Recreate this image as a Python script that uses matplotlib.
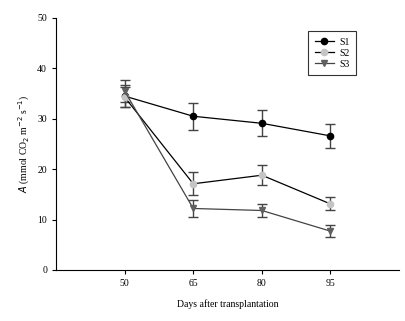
import numpy as np
import matplotlib
matplotlib.use("Agg")
import matplotlib.pyplot as plt
from matplotlib.lines import Line2D

plt.rcParams['font.family'] = ['Liberation Serif', 'DejaVu Serif']

days = [50, 65, 80, 95]
s1 = [34.5, 30.5, 29.1, 26.6]
s1_err = [2.2, 2.7, 2.6, 2.4]
s2 = [34.3, 17.1, 18.8, 13.1]
s2_err = [2.0, 2.3, 2.0, 1.3]
s3 = [35.5, 12.2, 11.8, 7.7]
s3_err = [2.2, 1.6, 1.3, 1.2]

fig = plt.figure(figsize=(4.06, 3.21), dpi=100)
ax = fig.add_axes([0.138, 0.159, 0.845, 0.785])

ebkw = dict(ecolor='#444444', elinewidth=1.0, capsize=3.5, capthick=1.0, lw=0.9)
ax.errorbar(days, s1, yerr=s1_err, fmt='-o', color='black', mfc='black', mec='black',
            ms=4.5, **ebkw)
ax.errorbar(days, s2, yerr=s2_err, fmt='-o', color='black', mfc='#c4c4c4', mec='#c4c4c4',
            ms=4.5, **ebkw)
ax.errorbar(days, s3, yerr=s3_err, fmt='-v', color='#444444', mfc='#606060', mec='#606060',
            ms=4.5, **ebkw)

ax.set_xlim(35, 110)
ax.set_ylim(0, 50)
ax.set_xticks(days)
ax.set_yticks([0, 10, 20, 30, 40, 50])
ax.spines['top'].set_visible(False)
ax.spines['right'].set_visible(False)
ax.tick_params(labelsize=7, length=3, width=0.8, color='black')
ax.set_xlabel("Days after transplantation", fontsize=7, labelpad=8)
ax.set_ylabel(r"$A$ (mmol CO$_2$ m$^{-2}$ s$^{-1}$)", fontsize=7)

handles = [
    Line2D([], [], color='black', lw=0.9, marker='o', ms=4.5, mfc='black', mec='black'),
    Line2D([], [], color='black', lw=0.9, marker='o', ms=4.5, mfc='#c4c4c4', mec='#c4c4c4'),
    Line2D([], [], color='#444444', lw=0.9, marker='v', ms=4.5, mfc='#606060', mec='#606060'),
]
leg = ax.legend(handles, ['S1', 'S2', 'S3'], loc='upper left', bbox_to_anchor=(0.72, 0.968),
                fontsize=7, frameon=True, fancybox=False, edgecolor='black',
                handlelength=2.0, borderpad=0.7, labelspacing=0.2, handletextpad=0.5)
leg.get_frame().set_linewidth(0.8)

plt.savefig("out.png", dpi=100)
